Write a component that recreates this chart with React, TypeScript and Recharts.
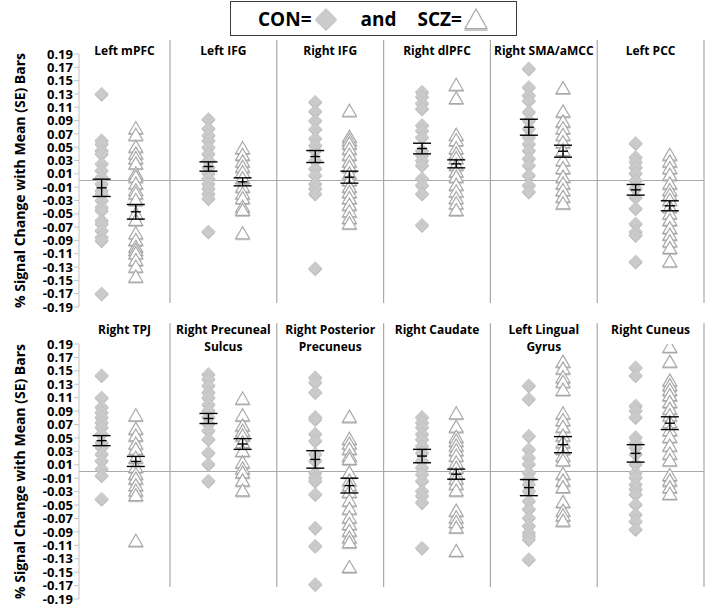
import React from 'react';
import { ScatterChart, Scatter, XAxis, YAxis, ReferenceLine } from 'recharts';

const FONT = '"Open Sans", "DejaVu Sans", sans-serif';

const yTicks = [0.19, 0.17, 0.15, 0.13, 0.11, 0.09, 0.07, 0.05, 0.03, 0.01, -0.01, -0.03, -0.05, -0.07, -0.09, -0.11, -0.13, -0.15, -0.17, -0.19];

// top row
const topRegions = ['Left mPFC', 'Left IFG', 'Right IFG', 'Right dlPFC', 'Right SMA/aMCC', 'Left PCC'];
const topCon = [
  [0.13, 0.06, 0.055, 0.045, 0.04, 0.025, 0.015, 0.005, -0.005, -0.015, -0.02, -0.03, -0.04, -0.045, -0.06, -0.065, -0.075, -0.085, -0.09, -0.17],
  [0.092, 0.078, 0.068, 0.06, 0.05, 0.04, 0.03, 0.02, 0.011, 0.003, -0.005, -0.012, -0.02, -0.027, -0.077],
  [0.118, 0.104, 0.09, 0.077, 0.063, 0.053, 0.045, 0.03, 0.018, 0.008, -0.005, -0.012, -0.02, -0.132],
  [0.133, 0.126, 0.116, 0.108, 0.083, 0.075, 0.065, 0.045, 0.038, 0.03, 0.023, 0.003, -0.007, -0.02, -0.067],
  [0.168, 0.14, 0.128, 0.12, 0.103, 0.09, 0.078, 0.065, 0.055, 0.045, 0.033, 0.023, 0.008, -0.007, -0.017],
  [0.056, 0.035, 0.028, 0.02, 0.011, 0.0, -0.012, -0.025, -0.042, -0.065, -0.077, -0.082, -0.122],
];
const topScz = [
  [0.078, 0.068, 0.05, 0.04, 0.033, 0.025, 0.01, 0.005, -0.005, -0.015, -0.02, -0.03, -0.05, -0.06, -0.08, -0.09, -0.1, -0.105, -0.11, -0.12, -0.13, -0.145],
  [0.048, 0.038, 0.028, 0.02, 0.012, 0.003, -0.01, -0.02, -0.027, -0.04, -0.045, -0.08],
  [0.104, 0.065, 0.06, 0.055, 0.047, 0.038, 0.028, 0.02, 0.01, 0.0, -0.01, -0.018, -0.027, -0.037, -0.047, -0.057, -0.065],
  [0.143, 0.123, 0.068, 0.06, 0.048, 0.04, 0.033, 0.023, 0.013, 0.005, -0.007, -0.017, -0.027, -0.035, -0.045],
  [0.138, 0.103, 0.088, 0.078, 0.068, 0.057, 0.045, 0.03, 0.018, 0.005, -0.005, -0.015, -0.025, -0.035],
  [0.038, 0.028, 0.018, 0.008, -0.005, -0.015, -0.022, -0.03, -0.04, -0.05, -0.06, -0.072, -0.082, -0.092, -0.102, -0.122],
];
const topConMean = [-0.011, 0.021, 0.036, 0.048, 0.08, -0.014];
const topConSe = [0.013, 0.007, 0.009, 0.008, 0.012, 0.008];
const topSczMean = [-0.047, -0.002, 0.005, 0.025, 0.044, -0.038];
const topSczSe = [0.011, 0.006, 0.009, 0.006, 0.009, 0.0075];

// bottom row
const bottomRegions = ['Right TPJ', 'Right Precuneal\nSulcus', 'Right Posterior\nPrecuneus', 'Right Caudate', 'Left Lingual\nGyrus', 'Right Cuneus'];
const bottomCon = [
  [0.143, 0.11, 0.096, 0.088, 0.081, 0.073, 0.066, 0.056, 0.043, 0.036, 0.026, 0.016, 0.004, -0.006, -0.041],
  [0.145, 0.138, 0.128, 0.118, 0.11, 0.1, 0.091, 0.081, 0.071, 0.061, 0.048, 0.028, 0.011, -0.014],
  [0.14, 0.133, 0.118, 0.081, 0.078, 0.056, 0.046, 0.026, 0.016, -0.002, -0.009, -0.014, -0.034, -0.084, -0.111, -0.168],
  [0.081, 0.073, 0.066, 0.056, 0.048, 0.038, 0.028, 0.016, 0.006, -0.004, -0.014, -0.029, -0.036, -0.046, -0.114],
  [0.128, 0.108, 0.053, 0.033, 0.021, 0.011, -0.002, -0.011, -0.019, -0.029, -0.044, -0.056, -0.069, -0.081, -0.091, -0.096, -0.101, -0.131],
  [0.155, 0.143, 0.098, 0.091, 0.081, 0.051, 0.043, 0.036, 0.026, 0.011, -0.002, -0.009, -0.019, -0.026, -0.034, -0.049, -0.064, -0.074, -0.086],
];
const bottomScz = [
  [0.083, 0.063, 0.053, 0.041, 0.033, 0.02, 0.006, -0.004, -0.011, -0.021, -0.029, -0.036, -0.104],
  [0.108, 0.083, 0.068, 0.06, 0.053, 0.043, 0.03, 0.013, 0.004, -0.002, -0.014, -0.029],
  [0.081, 0.048, 0.041, 0.033, 0.023, 0.018, -0.002, -0.014, -0.021, -0.031, -0.044, -0.056, -0.069, -0.079, -0.089, -0.099, -0.106, -0.143],
  [0.086, 0.066, 0.051, 0.045, 0.038, 0.031, 0.023, 0.013, 0.005, -0.004, -0.011, -0.019, -0.029, -0.059, -0.069, -0.076, -0.084, -0.119],
  [0.163, 0.153, 0.14, 0.133, 0.121, 0.086, 0.076, 0.066, 0.053, 0.043, 0.033, 0.023, 0.016, -0.004, -0.014, -0.024, -0.046, -0.059, -0.066, -0.074],
  [0.185, 0.163, 0.135, 0.128, 0.121, 0.113, 0.103, 0.093, 0.083, 0.073, 0.061, 0.051, 0.038, 0.026, 0.016, -0.006, -0.014, -0.024, -0.034],
];
const bottomConMean = [0.046, 0.079, 0.018, 0.023, -0.024, 0.027];
const bottomConSe = [0.0075, 0.0075, 0.013, 0.01, 0.012, 0.013];
const bottomSczMean = [0.015, 0.041, -0.021, -0.004, 0.04, 0.072];
const bottomSczSe = [0.0075, 0.008, 0.011, 0.0075, 0.012, 0.0095];

// x layout: region i occupies [i, i+1]
const X_MIN = 0.148;
const X_MAX = 6;
const Y_MIN = -0.19;
const Y_MAX = 0.19;
const CON_X = 0.36;
const SCZ_X = 0.68;
const PLOT_LEFT = 79;
const PLOT_RIGHT = 704;
const GRID = '#a9a9a9';

const xPx = (v: number) => PLOT_LEFT + ((v - X_MIN) / (X_MAX - X_MIN)) * (PLOT_RIGHT - PLOT_LEFT);

const Diamond = (props: any) => {
  const { cx, cy } = props;
  if (cx == null || cy == null) return null;
  const r = 6.8;
  return (
    <g>
      <path d={`M${cx},${cy - r + 1}L${cx + r},${cy + 1}L${cx},${cy + r + 1}L${cx - r},${cy + 1}Z`} fill="#b4b4b4" />
      <path d={`M${cx},${cy - r}L${cx + r},${cy}L${cx},${cy + r}L${cx - r},${cy}Z`} fill="#cacaca" stroke="#bdbdbd" strokeWidth={0.6} />
    </g>
  );
};

const Triangle = (props: any) => {
  const { cx, cy } = props;
  if (cx == null || cy == null) return null;
  return (
    <g>
      <path d={`M${cx},${cy - 6}L${cx + 7.5},${cy + 6.5}L${cx - 7.5},${cy + 6.5}Z`} fill="#c4c4c4" />
      <path d={`M${cx},${cy - 7}L${cx + 7},${cy + 5}L${cx - 7},${cy + 5}Z`} fill="#ffffff" stroke="#a8a8a8" strokeWidth={1.2} />
    </g>
  );
};

// mean tick plus +/- SE whiskers; pxPerUnit comes from the panel's y range
const makeMeanBar = (pxPerUnit: number) => (props: any) => {
  const { cx, cy, payload } = props;
  if (cx == null || cy == null) return null;
  const h = (payload?.se ?? 0) * pxPerUnit;
  return (
    <g stroke="#000" strokeWidth={1.4}>
      <line x1={cx} x2={cx} y1={cy - h} y2={cy + h} />
      <line x1={cx - 9} x2={cx + 9} y1={cy - h} y2={cy - h} />
      <line x1={cx - 9} x2={cx + 9} y1={cy + h} y2={cy + h} />
      <line x1={cx - 5} x2={cx + 5} y1={cy} y2={cy} />
    </g>
  );
};

const toPoints = (groups: number[][], offset: number) =>
  groups.flatMap((vals, i) => vals.map((v) => ({ x: i + offset, y: v })));

const toMeans = (means: number[], se: number[], offset: number) =>
  means.map((m, i) => ({ x: i + offset, y: m, se: se[i] }));

interface PanelProps {
  regions: string[];
  con: number[][];
  scz: number[][];
  conMean: number[];
  conSe: number[];
  sczMean: number[];
  sczSe: number[];
  top: number;
  height: number;
  marginTop: number;
  marginBottom: number;
  sepTop: number;
  sepBottom: number;
  titleTop: number;
}

const Panel = (p: PanelProps) => {
  const means = [...toMeans(p.conMean, p.conSe, CON_X), ...toMeans(p.sczMean, p.sczSe, SCZ_X)];
  const plotTop = p.top + p.marginTop;
  const plotBottom = p.top + p.height - p.marginBottom;
  const meanBar = makeMeanBar((plotBottom - plotTop) / (Y_MAX - Y_MIN));
  return (
    <>
      <div style={{ position: 'absolute', left: 0, top: p.top }}>
        <ScatterChart
          width={720}
          height={p.height}
          margin={{ top: p.marginTop, right: 720 - PLOT_RIGHT, bottom: p.marginBottom, left: PLOT_LEFT - 60 }}
        >
          <XAxis type="number" dataKey="x" domain={[X_MIN, X_MAX]} hide allowDataOverflow />
          <YAxis
            type="number"
            dataKey="y"
            domain={[Y_MIN, Y_MAX]}
            ticks={yTicks}
            interval={0}
            width={60}
            allowDataOverflow
            tickFormatter={(v: number) => v.toFixed(2)}
            tick={{ fill: '#000', fontSize: 13, fontWeight: 700, fontFamily: FONT }}
            tickSize={5}
            tickMargin={1}
            axisLine={{ stroke: '#c4c4c4' }}
            tickLine={{ stroke: '#c4c4c4' }}
          />
          <ReferenceLine y={0} stroke={GRID} strokeWidth={1} />
          {[1, 2, 3, 4, 5, 6].map((k) => (
            <ReferenceLine
              key={k}
              segment={[{ x: k, y: p.sepTop }, { x: k, y: p.sepBottom }]}
              stroke={GRID}
              strokeWidth={1.2}
              ifOverflow="visible"
            />
          ))}
          <Scatter data={toPoints(p.con, CON_X)} shape={Diamond} isAnimationActive={false} />
          <Scatter data={toPoints(p.scz, SCZ_X)} shape={Triangle} isAnimationActive={false} />
          <Scatter data={means} shape={meanBar} isAnimationActive={false} />
        </ScatterChart>
      </div>
      {p.regions.map((r, i) => {
        const left = i === 0 ? PLOT_LEFT : xPx(i);
        const right = xPx(i + 1);
        return (
          <div
            key={r}
            style={{
              position: 'absolute',
              left,
              width: right - left,
              top: p.titleTop,
              textAlign: 'center',
              whiteSpace: 'pre-line',
              fontFamily: FONT,
              fontWeight: 700,
              fontSize: 12,
              lineHeight: '17px',
              color: '#000',
            }}
          >
            {r}
          </div>
        );
      })}
      <svg style={{ position: 'absolute', left: 0, top: 0 }} width={34} height={609}>
        <text
          transform={`translate(19, ${(plotTop + plotBottom) / 2}) rotate(-90)`}
          textAnchor="middle"
          dominantBaseline="central"
          fontFamily={FONT}
          fontWeight={700}
          fontSize={14}
          fill="#000"
        >
          % Signal Change with Mean (SE) Bars
        </text>
      </svg>
    </>
  );
};

const Legend = () => (
  <div
    style={{
      position: 'absolute',
      left: 230,
      top: 1,
      width: 285,
      height: 33,
      border: '1px solid #3c3c3c',
      display: 'flex',
      alignItems: 'center',
      justifyContent: 'center',
      fontFamily: FONT,
      fontWeight: 700,
      fontSize: 19,
      color: '#000',
    }}
  >
    <span>CON=</span>
    <svg width={26} height={26} style={{ marginLeft: 1 }}>
      <path d="M13,2L24,13L13,24L2,13Z" fill="#b8b8b8" transform="translate(0,1)" />
      <path d="M13,2L24,13L13,24L2,13Z" fill="#cbcbcb" />
    </svg>
    <span style={{ marginLeft: 22 }}>and</span>
    <span style={{ marginLeft: 21 }}>SCZ=</span>
    <svg width={26} height={26} style={{ marginLeft: 1 }}>
      <path d="M13,3L25,24L1,24Z" fill="#c4c4c4" transform="translate(0,1)" />
      <path d="M13,3L24,22.5L2,22.5Z" fill="#fff" stroke="#a8a8a8" strokeWidth={1.2} />
    </svg>
  </div>
);

export default function App() {
  return (
    <div style={{ position: 'absolute', left: 0, top: 0, width: 720, height: 609, background: '#fff', overflow: 'hidden' }}>
      <Legend />
      <Panel
        regions={topRegions}
        con={topCon}
        scz={topScz}
        conMean={topConMean}
        conSe={topConSe}
        sczMean={topSczMean}
        sczSe={topSczSe}
        top={0}
        height={320}
        marginTop={54}
        marginBottom={13}
        sepTop={0.211}
        sepBottom={-0.184}
        titleTop={42}
      />
      <Panel
        regions={bottomRegions}
        con={bottomCon}
        scz={bottomScz}
        conMean={bottomConMean}
        conSe={bottomConSe}
        sczMean={bottomSczMean}
        sczSe={bottomSczSe}
        top={310}
        height={299}
        marginTop={34}
        marginBottom={10}
        sepTop={0.221}
        sepBottom={-0.172}
        titleTop={321}
      />
    </div>
  );
}
